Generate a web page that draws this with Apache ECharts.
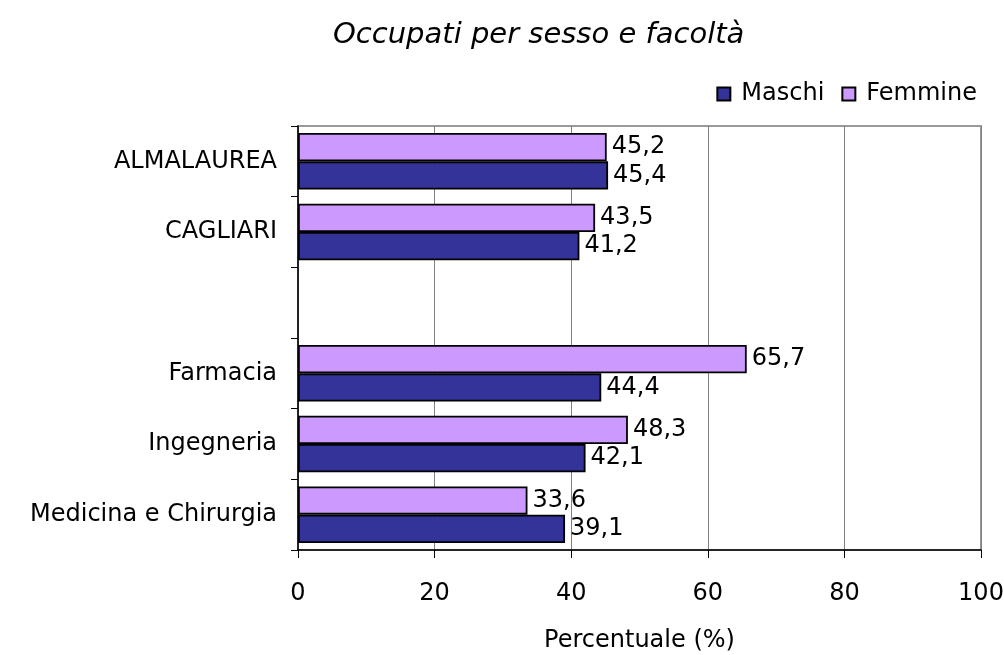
<!DOCTYPE html>
<html>
<head>
<meta charset="utf-8">
<script src="https://cdn.jsdelivr.net/npm/echarts@6/dist/echarts.min.js"></script>
<style>html,body{margin:0;padding:0;background:#fff}#c{width:1004px;height:655px}</style>
</head>
<body>
<div id="c"></div>
<script>
var categories = ['ALMALAUREA', 'CAGLIARI', '', 'Farmacia', 'Ingegneria', 'Medicina e Chirurgia'];
var maschi = [45.4, 41.2, '-', 44.4, 42.1, 39.1];
var femmine = [45.2, 43.5, '-', 65.7, 48.3, 33.6];
var xTicks = [0, 20, 40, 60, 80, 100];
var FONT = 'DejaVu Sans';

var chart = echarts.init(document.getElementById('c'), null, {renderer: 'canvas'});
function fmt(p) { return String(p.value).replace('.', ','); }
var lbl = {show: true, position: 'right', distance: 5, color: '#000', fontFamily: FONT, fontSize: 24, formatter: fmt};
chart.setOption({
  animation: false,
  backgroundColor: '#fff',
  title: {
    text: 'Occupati per sesso e facoltà',
    left: 328, top: 16,
    textStyle: {fontFamily: FONT, fontStyle: 'italic', fontWeight: 'normal', fontSize: 29, color: '#000'}
  },
  legend: {
    right: 22, top: 77,
    itemWidth: 13, itemHeight: 13, itemGap: 17,
    icon: 'rect',
    textStyle: {fontFamily: FONT, fontSize: 24, color: '#000', padding: [0, 0, 0, 6]},
    data: ['Maschi', 'Femmine']
  },
  grid: {left: 298, right: 23, top: 126, bottom: 105, show: true, borderColor: '#999', borderWidth: 2,
    containLabel: false, outerBoundsMode: 'none'},
  xAxis: {
    type: 'value', min: 0, max: 100, interval: 20,
    name: 'Percentuale (%)', nameLocation: 'middle', nameGap: 79,
    nameTextStyle: {fontFamily: FONT, fontSize: 24, color: '#000'},
    axisLine: {show: true, lineStyle: {color: '#000', width: 1.5}},
    axisTick: {show: true, length: 8, lineStyle: {color: '#000'}},
    axisLabel: {fontFamily: FONT, fontSize: 24, color: '#000', margin: 32,
      formatter: function (v) { return xTicks.indexOf(v) >= 0 ? String(v) : ''; }},
    splitLine: {show: true, lineStyle: {color: '#808080', width: 1}}
  },
  yAxis: {
    type: 'category', data: categories, inverse: true,
    axisLine: {show: true, lineStyle: {color: '#000', width: 1.5}},
    axisTick: {show: true, length: 7, lineStyle: {color: '#000'}},
    axisLabel: {fontFamily: FONT, fontSize: 24, color: '#000', margin: 21}
  },
  series: [
    {
      name: 'Femmine', type: 'bar', data: femmine,
      barGap: '0%', barCategoryGap: '20%',
      itemStyle: {color: '#CC99FF', borderColor: '#000', borderWidth: 1.8},
      label: lbl
    },
    {
      name: 'Maschi', type: 'bar', data: maschi,
      barGap: '0%', barCategoryGap: '20%',
      itemStyle: {color: '#333399', borderColor: '#000', borderWidth: 1.8},
      label: lbl
    }
  ]
});
</script>
</body>
</html>
